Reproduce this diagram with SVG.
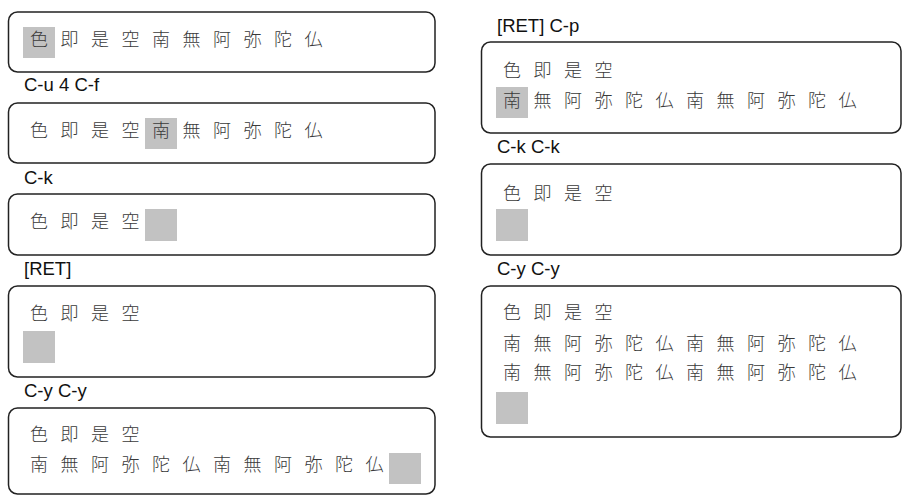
<svg xmlns="http://www.w3.org/2000/svg" width="902" height="496" viewBox="0 0 902 496">
<style>
.box{fill:#fff;stroke:#222;stroke-width:1.5}
.cur{fill:#c2c2c2}
.cjk{font-family:"Noto Sans CJK JP","Noto Sans CJK SC",sans-serif;font-size:18px;font-weight:300;fill:#3a3a3a;letter-spacing:12.5px}
.lbl{font-family:"Liberation Sans",Arial,sans-serif;font-size:18.5px;fill:#111}
</style>
<rect width="902" height="496" fill="#fff"/>
<g id="connectors"></g>
<g id="panel-l1">
<rect class="box" x="8.5" y="12" width="426.5" height="60" rx="9"/>
<rect class="cur" x="23" y="27" width="32" height="31"/>
<text class="cjk" x="30" y="46">色即是空南無阿弥陀仏</text>
</g>
<g id="panel-l2">
<text class="lbl" x="24" y="91">C-u 4 C-f</text>
<rect class="box" x="8.5" y="103" width="426.5" height="60" rx="9"/>
<rect class="cur" x="145" y="118" width="32" height="31"/>
<text class="cjk" x="30" y="137">色即是空南無阿弥陀仏</text>
</g>
<g id="panel-l3">
<text class="lbl" x="24" y="184">C-k</text>
<rect class="box" x="8.5" y="194" width="426.5" height="61" rx="9"/>
<rect class="cur" x="145" y="209" width="32" height="32"/>
<text class="cjk" x="30" y="228">色即是空</text>
</g>
<g id="panel-l4">
<text class="lbl" x="24" y="275">[RET]</text>
<rect class="box" x="8.5" y="286" width="426.5" height="91" rx="9"/>
<text class="cjk" x="30" y="320">色即是空</text>
<rect class="cur" x="23" y="331" width="32" height="32"/>
</g>
<g id="panel-l5">
<text class="lbl" x="24" y="397">C-y C-y</text>
<rect class="box" x="8.5" y="408" width="426.5" height="86" rx="9"/>
<text class="cjk" x="30" y="441">色即是空</text>
<text class="cjk" x="30" y="470.5">南無阿弥陀仏南無阿弥陀仏</text>
<rect class="cur" x="389" y="453" width="32" height="31"/>
</g>
<g id="panel-r1">
<text class="lbl" x="497" y="32">[RET] C-p</text>
<rect class="box" x="481.5" y="42" width="419.5" height="91" rx="9"/>
<text class="cjk" x="503" y="77">色即是空</text>
<rect class="cur" x="496" y="87" width="32" height="31"/>
<text class="cjk" x="503" y="106.5">南無阿弥陀仏南無阿弥陀仏</text>
</g>
<g id="panel-r2">
<text class="lbl" x="497" y="153">C-k C-k</text>
<rect class="box" x="481.5" y="164" width="419.5" height="91" rx="9"/>
<text class="cjk" x="503" y="200">色即是空</text>
<rect class="cur" x="496" y="209" width="32" height="32"/>
</g>
<g id="panel-r3">
<text class="lbl" x="497" y="275">C-y C-y</text>
<rect class="box" x="481.5" y="286" width="419.5" height="151" rx="9"/>
<text class="cjk" x="503" y="319">色即是空</text>
<text class="cjk" x="503" y="349.5">南無阿弥陀仏南無阿弥陀仏</text>
<text class="cjk" x="503" y="379">南無阿弥陀仏南無阿弥陀仏</text>
<rect class="cur" x="496" y="392" width="32" height="32"/>
</g>
</svg>
